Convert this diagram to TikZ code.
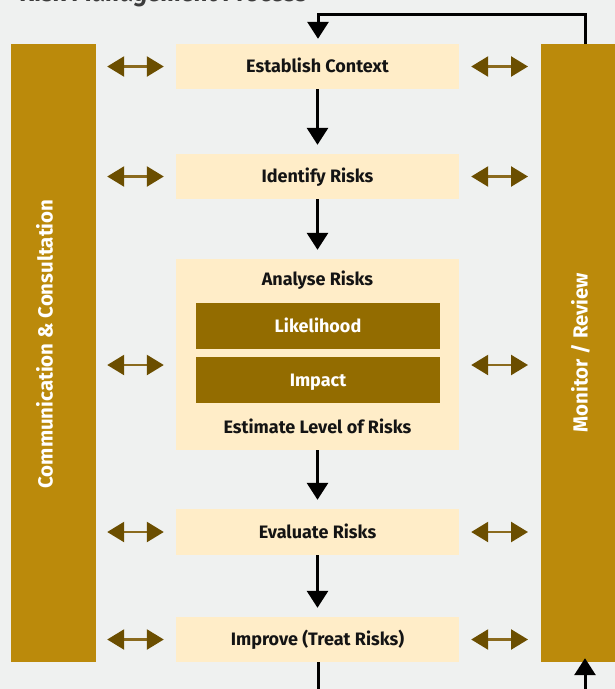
\documentclass[tikz,border=0pt]{standalone}
\usepackage{fontspec}
\setmainfont{Fira Sans}
\usetikzlibrary{arrows.meta,calc}
\definecolor{bgc}{HTML}{EFF1F0}
\definecolor{barc}{HTML}{BB8A0B}
\definecolor{cream}{HTML}{FFEDC8}
\definecolor{innerc}{HTML}{936C00}
\definecolor{tipc}{HTML}{6B4E00}
\definecolor{shaftc}{HTML}{8A6A1E}
\definecolor{ttl}{HTML}{3C3C3C}
\begin{document}
\begin{tikzpicture}[x=1pt,y=-1pt,
  sidebar/.style={fill=barc, inner sep=0pt},
  sidetext/.style={rotate=90, text=white, inner sep=0pt, font=\bfseries\fontsize{20.4}{24}\selectfont},
  boxfont/.style={font=\bfseries\fontsize{18}{21}\selectfont, text height=12.5pt, text depth=0.5pt},
  stepbox/.style={fill=cream, minimum width=283pt, inner sep=0pt, text=black!92, boxfont},
  innerbox/.style={fill=innerc, minimum width=244pt, minimum height=46pt, inner sep=0pt, text=white, boxfont},
  plaintext/.style={inner sep=0pt, text=black!92, boxfont},
  flow/.style={line width=3pt, draw=black, -{Triangle[width=21pt,length=17pt]}},
  flowline/.style={line width=3pt, draw=black},
  dbl/.style={line width=2.5pt, draw=shaftc, {Triangle[width=20pt,length=17pt,color=tipc]}-{Triangle[width=20pt,length=17pt,color=tipc]}}
]
\fill[bgc] (0,0) rectangle (615,689);
\useasboundingbox (0,0) rectangle (615,689);

% partially visible title
\node[anchor=base west, inner sep=0pt, text=ttl, font=\bfseries\itshape\fontsize{24.5}{28}\selectfont] (title) at (20,1.5) {Risk Management Process};

% side bars
\node[sidebar, minimum width=85pt, minimum height=618pt] (lbar) at (53.5,353) {};
\node[sidetext] (ltext) at (44.5,344) {Communication \& Consultation};
\node[sidebar, minimum width=80pt, minimum height=618pt] (rbar) at (581,353) {};
\node[sidetext] (rtext) at (580.5,352.5) {Monitor / Review};

% process boxes
\node[stepbox, minimum height=45pt] (est) at (317.5,66.5) {Establish Context};
\node[stepbox, minimum height=45pt] (ide) at (317.5,176.5) {Identify Risks};
\node[stepbox, minimum height=191pt] (ana) at (317.5,354.5) {};
\node[plaintext] (anat) at (317.5,279.5) {Analyse Risks};
\node[innerbox] (lik) at (318,326) {Likelihood};
\node[innerbox] (imp) at (318,380) {Impact};
\node[plaintext] (estl) at (317.5,427) {Estimate Level of Risks};
\node[stepbox, minimum height=46pt] (eva) at (317.5,532) {Evaluate Risks};
\node[stepbox, minimum height=45pt] (imr) at (317.5,639.5) {Improve (Treat Risks)};

% flow arrows
\draw[flow, shorten >=9pt] (est) -- (ide);
\draw[flow, shorten >=9pt] (ide) -- (ana);
\draw[flow, shorten >=9pt] (ana) -- (eva);
\draw[flow, shorten >=9pt] (eva) -- (imr);

% feedback loop
\coordinate (rtop) at (585,44);
\coordinate (ltop) at (318,14);
\coordinate (bstart) at (585,689);
\coordinate (bend) at (318,689);
\draw[flow, shorten >=5pt] (rtop) |- (ltop) -- (est.north -| ltop);
\draw[flow, shorten >=-4pt] (bstart) -- (rbar.south -| bstart);
\draw[flowline] (imr.south -| bend) -- (bend);

% two-way arrows
\coordinate (amid) at (317.5,365);
\foreach \b in {est,ide,amid,eva,imr}{
  \draw[dbl, shorten <=11pt, shorten >=12pt] (lbar.east |- \b) -- (ana.west |- \b);
  \draw[dbl, shorten <=12pt, shorten >=13pt] (ana.east |- \b) -- (541,0 |- \b);
}
\end{tikzpicture}
\end{document}
